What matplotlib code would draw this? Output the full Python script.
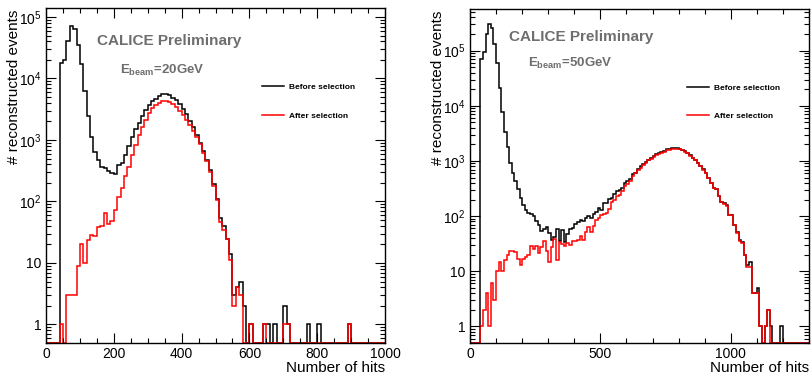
import numpy as np
import matplotlib
matplotlib.use("Agg")
import matplotlib.pyplot as plt
from matplotlib.ticker import MultipleLocator, LogLocator, FuncFormatter, NullFormatter

plt.rcParams['font.family'] = ['Liberation Sans', 'DejaVu Sans']
plt.rcParams['mathtext.fontset'] = 'custom'
plt.rcParams['mathtext.rm'] = 'Liberation Sans'
plt.rcParams['mathtext.bf'] = 'Liberation Sans:bold'

# number of hits, 10-hit bins
edges_20 = np.arange(0, 1001, 10)
edges_50 = np.arange(0, 1301, 10)

# 20 GeV, before selection
before_20 = [
    0, 0, 0, 0, 17700, 20000, 40000, 71000, 64000, 35000,
    17000, 6200, 2450, 1120, 640, 470, 370, 350, 315, 295,
    285, 395, 425, 575, 785, 1100, 1500, 1900, 2450, 3100,
    3700, 4300, 4700, 5100, 5500, 5500, 5300, 4900, 4400, 3800,
    3200, 2600, 2050, 1600, 1200, 900, 650, 470, 320, 190,
    110, 54, 40, 25, 14, 3, 4, 5, 2, 0,
    1, 0, 0, 0, 1, 1, 0, 1, 0, 0,
    2, 1, 0, 0, 0, 0, 0, 1, 0, 0,
    1, 0, 0, 0, 0, 0, 0, 0, 0, 1,
    0, 0, 0, 0, 0, 0, 0, 0, 0, 0,
]
# 20 GeV, after selection
after_20 = [
    0, 0, 0, 0, 1, 0, 3, 3, 3, 9,
    20, 10, 24, 28, 27, 38, 40, 65, 43, 49,
    72, 120, 168, 256, 370, 560, 830, 1200, 1650, 2150,
    2700, 3300, 3750, 4050, 4250, 4250, 4150, 3850, 3450, 3000,
    2550, 2150, 1750, 1400, 1100, 850, 620, 450, 305, 180,
    105, 47, 35, 25, 11, 2, 4, 3, 0, 0,
    1, 0, 0, 0, 1, 0, 0, 0, 0, 0,
    1, 1, 0, 0, 0, 0, 0, 0, 0, 0,
    0, 0, 0, 0, 0, 0, 0, 0, 0, 1,
    0, 0, 0, 0, 0, 0, 0, 0, 0, 0,
]

# 50 GeV, before selection
before_50 = [
    0, 0, 0, 0, 71000, 94000, 200000, 300000, 260000, 130000,
    60000, 21000, 7700, 3300, 1800, 910, 600, 440, 310, 215,
    160, 130, 115, 108, 100, 82, 70, 54, 58, 63,
    50, 37, 42, 58, 36, 56, 34, 47, 58, 62,
    72, 78, 84, 80, 92, 100, 92, 108, 118, 138,
    130, 170, 176, 204, 210, 250, 286, 300, 330, 405,
    435, 465, 575, 617, 730, 815, 870, 960, 1050, 1150,
    1240, 1320, 1380, 1460, 1500, 1630, 1670, 1700, 1720, 1720,
    1670, 1590, 1500, 1380, 1260, 1150, 1050, 935, 815, 710,
    617, 500, 405, 330, 310, 233, 182, 170, 160, 105,
    105, 69, 51, 37, 34, 20, 13, 15, 4, 4,
    5, 1, 0, 1, 2, 1, 0, 0, 0, 1,
    0, 0, 0, 0, 0, 0, 0, 0, 0, 0,
]
# 50 GeV, after selection
after_50 = [
    0, 0, 0, 0, 1, 2, 4, 1, 6, 3,
    10, 15, 10, 16, 20, 23, 23, 22, 17, 13,
    17, 18, 20, 29, 25, 29, 21, 27, 36, 23,
    15, 27, 38, 16, 34, 31, 29, 33, 30, 36,
    36, 37, 44, 37, 51, 63, 51, 67, 86, 91,
    105, 109, 116, 134, 177, 197, 233, 240, 287, 345,
    380, 435, 535, 600, 690, 760, 840, 935, 1020, 1100,
    1180, 1260, 1330, 1400, 1460, 1560, 1610, 1650, 1660, 1670,
    1640, 1570, 1480, 1370, 1250, 1140, 1040, 925, 805, 700,
    610, 495, 400, 325, 305, 230, 180, 168, 155, 103,
    103, 68, 50, 36, 33, 20, 12, 12, 4, 4,
    4, 1, 0, 1, 2, 0, 0, 0, 0, 0,
    0, 0, 0, 0, 0, 0, 0, 0, 0, 0,
]

YMIN = 0.5
GREY = '#6e6e6e'


def log_label(v, pos):
    if v == 1:
        return '1'
    if v == 10:
        return '10'
    return r'$\mathregular{10^{%d}}$' % round(np.log10(v))


def draw_panel(ax, edges, before, after, xmax, ymax, xmajor, xminor, energy,
               calice_xy, ebeam_xy, leg_xy):
    # empty bins sit on the lower frame, like ROOT does on a log axis
    b = np.clip(np.array(before, dtype=float), YMIN, None)
    a = np.clip(np.array(after, dtype=float), YMIN, None)
    ax.stairs(b, edges, baseline=None, color='black', lw=1.1, label='Before selection')
    ax.stairs(a, edges, baseline=None, color='red', lw=1.1, label='After selection')

    ax.set_yscale('log')
    ax.set_xlim(0, xmax)
    ax.set_ylim(YMIN, ymax)
    ax.xaxis.set_major_locator(MultipleLocator(xmajor))
    ax.xaxis.set_minor_locator(MultipleLocator(xminor))
    ax.yaxis.set_major_locator(LogLocator(base=10, numticks=12))
    ax.yaxis.set_minor_locator(LogLocator(base=10, subs=np.arange(2, 10), numticks=12))
    ax.yaxis.set_major_formatter(FuncFormatter(log_label))
    ax.yaxis.set_minor_formatter(NullFormatter())
    ax.tick_params(which='both', direction='in', top=True, right=True, labelsize=10, pad=3)
    ax.tick_params(which='major', length=7, width=0.8)
    ax.tick_params(which='minor', length=3.5, width=0.8)
    for s in ax.spines.values():
        s.set_linewidth(1.0)

    ax.set_xlabel('Number of hits', fontsize=11, loc='right')
    ax.set_ylabel('# reconstructed events', fontsize=11, loc='top')
    ax.xaxis.set_label_coords(1.0, -0.055)
    ax.yaxis.set_label_coords(-0.075, 0.995)

    ax.text(calice_xy[0], calice_xy[1], 'CALICE Preliminary', transform=ax.transAxes,
            color=GREY, fontsize=11, fontweight='bold', va='baseline', ha='left')
    ax.text(ebeam_xy[0], ebeam_xy[1], r'E$_\mathbf{beam}$=%dGeV' % energy, transform=ax.transAxes,
            color=GREY, fontsize=9.5, fontweight='bold', va='baseline', ha='left')

    ax.legend(loc='upper left', bbox_to_anchor=leg_xy, frameon=False, borderpad=0,
              borderaxespad=0, handlelength=2.6, handletextpad=0.6, labelspacing=2.5,
              prop={'size': 6, 'weight': 'bold'})


fig = plt.figure(figsize=(8.11, 3.78), dpi=100)
ax1 = fig.add_axes([46 / 811, 35 / 378, 339 / 811, 335 / 378])
ax2 = fig.add_axes([470 / 811, 35 / 378, 339 / 811, 334 / 378])

draw_panel(ax1, edges_20, before_20, after_20, 1000, 1.4e5, 200, 50, 20,
           (0.150, 0.890), (0.218, 0.803), (0.638, 0.776))
draw_panel(ax2, edges_50, before_50, after_50, 1300, 5.7e5, 500, 100, 50,
           (0.116, 0.903), (0.172, 0.828), (0.640, 0.776))

fig.savefig('out.png', dpi=100)
